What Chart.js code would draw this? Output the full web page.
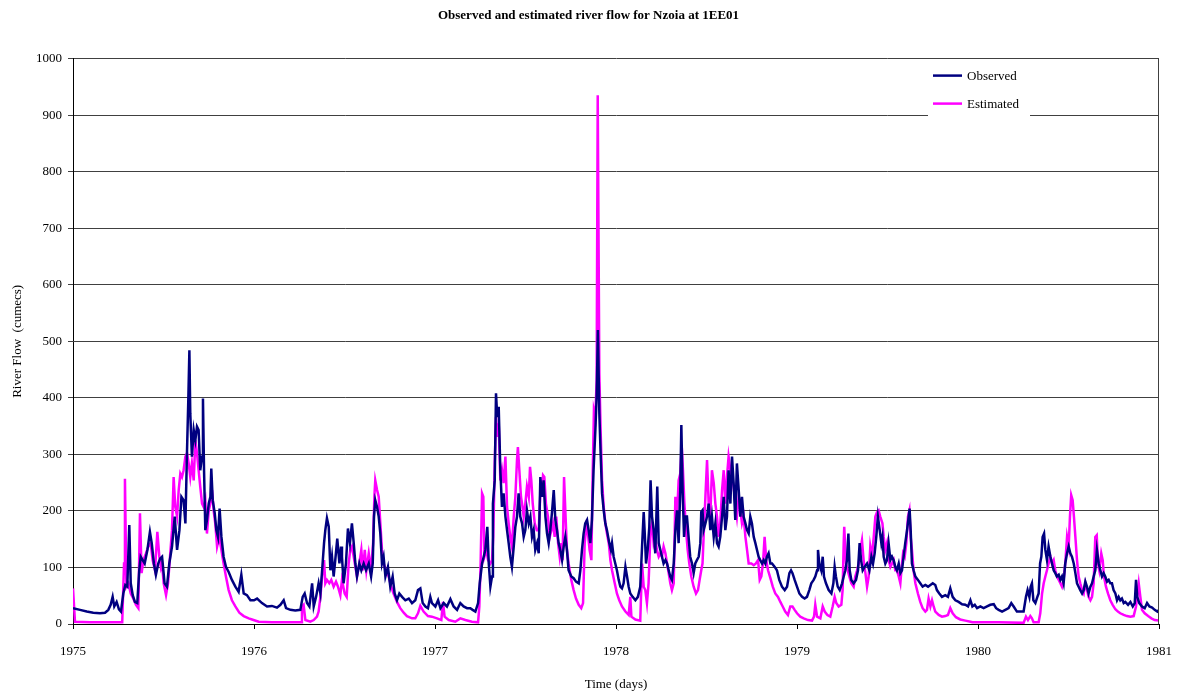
<!DOCTYPE html>
<html>
<head>
<meta charset="utf-8">
<title>Nzoia 1EE01</title>
<script src="https://cdn.jsdelivr.net/npm/chart.js@4.4.0/dist/chart.umd.min.js"></script>
<style>
  html, body { margin: 0; padding: 0; background: #fff; }
  #wrap { width: 1177px; height: 695px; }
</style>
</head>
<body>
<div id="wrap"><canvas id="myChart"></canvas></div>
<script>
// time in decimal years, flow in cumecs
var obsYear = [
  1975.000, 1975.039, 1975.076, 1975.112, 1975.149, 1975.177, 1975.195, 1975.208, 1975.219, 1975.228, 1975.241, 1975.254, 1975.265, 1975.278, 1975.289, 1975.300, 1975.311, 1975.319, 1975.330, 1975.342, 1975.355, 1975.366, 1975.374, 1975.385, 1975.396, 1975.411, 1975.425, 1975.435, 1975.447, 1975.458, 1975.471, 1975.482,
  1975.492, 1975.506, 1975.519, 1975.532, 1975.547, 1975.562, 1975.575, 1975.588, 1975.599, 1975.611, 1975.621, 1975.630, 1975.637, 1975.643, 1975.648, 1975.657, 1975.667, 1975.676, 1975.685, 1975.694, 1975.703, 1975.713, 1975.718, 1975.724, 1975.731, 1975.740, 1975.750, 1975.759, 1975.764, 1975.772, 1975.783, 1975.792, 1975.801, 1975.810, 1975.820, 1975.832, 1975.845, 1975.860, 1975.878, 1975.897, 1975.915, 1975.930, 1975.943, 1975.961, 1975.980,
  1976.000, 1976.017, 1976.044, 1976.072, 1976.099, 1976.127, 1976.146, 1976.164, 1976.177, 1976.201, 1976.228, 1976.256, 1976.269, 1976.280, 1976.293, 1976.306, 1976.321, 1976.330, 1976.343, 1976.357, 1976.367, 1976.379, 1976.387, 1976.394, 1976.403, 1976.413, 1976.422, 1976.431, 1976.440, 1976.449, 1976.460, 1976.472, 1976.481,
  1976.486, 1976.495, 1976.508, 1976.519, 1976.530, 1976.541, 1976.551, 1976.560, 1976.569, 1976.582, 1976.593, 1976.606, 1976.619, 1976.634, 1976.647, 1976.656, 1976.663, 1976.670, 1976.680, 1976.689, 1976.698, 1976.707, 1976.716, 1976.726, 1976.740, 1976.753, 1976.766, 1976.777, 1976.790, 1976.803, 1976.818, 1976.836, 1976.855, 1976.873, 1976.891, 1976.906, 1976.919, 1976.932, 1976.947, 1976.961, 1976.974,
  1976.983, 1977.002, 1977.017, 1977.030, 1977.048, 1977.066, 1977.085, 1977.103, 1977.122, 1977.140, 1977.158, 1977.177, 1977.195, 1977.208, 1977.223, 1977.238, 1977.247, 1977.260, 1977.269, 1977.278, 1977.289, 1977.297, 1977.306, 1977.315, 1977.320, 1977.330, 1977.337, 1977.344, 1977.352, 1977.361, 1977.370, 1977.379, 1977.389, 1977.398, 1977.407, 1977.416, 1977.425, 1977.435, 1977.444, 1977.453, 1977.462, 1977.471,
  1977.481, 1977.490, 1977.499, 1977.508, 1977.518, 1977.527, 1977.536, 1977.545, 1977.554, 1977.564, 1977.573, 1977.582, 1977.591, 1977.600, 1977.610, 1977.619, 1977.628, 1977.637, 1977.646, 1977.656, 1977.665, 1977.674, 1977.683, 1977.692, 1977.702, 1977.711, 1977.720, 1977.729, 1977.738, 1977.753, 1977.766, 1977.779, 1977.794, 1977.803, 1977.812, 1977.821, 1977.830, 1977.840, 1977.849, 1977.858, 1977.867, 1977.876, 1977.886, 1977.893, 1977.900, 1977.908, 1977.915, 1977.923, 1977.932, 1977.941, 1977.950, 1977.963, 1977.972,
  1977.978, 1977.987, 1977.996, 1978.005, 1978.015, 1978.024, 1978.033, 1978.042, 1978.052, 1978.061, 1978.070, 1978.079, 1978.092, 1978.107, 1978.121, 1978.134, 1978.144, 1978.153, 1978.158, 1978.166, 1978.175, 1978.184, 1978.191, 1978.199, 1978.208, 1978.217, 1978.223, 1978.228, 1978.236, 1978.245, 1978.254, 1978.263, 1978.273, 1978.282, 1978.291, 1978.300, 1978.309, 1978.319, 1978.328, 1978.337, 1978.346, 1978.355, 1978.361, 1978.368, 1978.376, 1978.383, 1978.392, 1978.401, 1978.410, 1978.420, 1978.429, 1978.438, 1978.447, 1978.457, 1978.466, 1978.471,
  1978.478, 1978.484, 1978.494, 1978.503, 1978.512, 1978.521, 1978.530, 1978.540, 1978.549, 1978.558, 1978.567, 1978.576, 1978.586, 1978.595, 1978.604, 1978.613, 1978.622, 1978.632, 1978.641, 1978.650, 1978.659, 1978.668, 1978.678, 1978.687, 1978.696, 1978.705, 1978.715, 1978.724, 1978.733, 1978.742, 1978.751, 1978.761, 1978.770, 1978.779, 1978.788, 1978.797, 1978.807, 1978.816, 1978.825, 1978.834, 1978.843, 1978.853, 1978.862, 1978.877, 1978.889, 1978.902, 1978.917, 1978.932, 1978.945, 1978.958, 1978.967,
  1978.975, 1978.987, 1979.000, 1979.013, 1979.028, 1979.042, 1979.055, 1979.068, 1979.079, 1979.092, 1979.101, 1979.111, 1979.116, 1979.123, 1979.134, 1979.142, 1979.149, 1979.160, 1979.175, 1979.190, 1979.201, 1979.208, 1979.215, 1979.225, 1979.236, 1979.249, 1979.258, 1979.267, 1979.276, 1979.284, 1979.291, 1979.300, 1979.313, 1979.326, 1979.337, 1979.346, 1979.354, 1979.363, 1979.374, 1979.387, 1979.400, 1979.411, 1979.420, 1979.429, 1979.438, 1979.447, 1979.457, 1979.466,
  1979.472, 1979.479, 1979.488, 1979.497, 1979.506, 1979.516, 1979.525, 1979.534, 1979.543, 1979.552, 1979.562, 1979.571, 1979.580, 1979.589, 1979.598, 1979.608, 1979.617, 1979.622, 1979.628, 1979.635, 1979.644, 1979.654, 1979.668, 1979.681, 1979.694, 1979.709, 1979.724, 1979.737, 1979.750, 1979.764, 1979.773, 1979.786, 1979.801, 1979.819, 1979.834, 1979.847, 1979.860, 1979.875, 1979.893, 1979.912, 1979.930, 1979.945, 1979.958,
  1979.969, 1979.982, 1979.995, 1980.013, 1980.031, 1980.050, 1980.068, 1980.087, 1980.100, 1980.114, 1980.133, 1980.151, 1980.169, 1980.184, 1980.197, 1980.215, 1980.234, 1980.252, 1980.265, 1980.274, 1980.284, 1980.291, 1980.298, 1980.306, 1980.317, 1980.328, 1980.335, 1980.343, 1980.350, 1980.357, 1980.365, 1980.372, 1980.381, 1980.390, 1980.400, 1980.409, 1980.418, 1980.427, 1980.436, 1980.446, 1980.455,
  1980.464, 1980.473, 1980.482, 1980.492, 1980.501, 1980.510, 1980.519, 1980.529, 1980.538, 1980.547, 1980.556, 1980.565, 1980.575, 1980.584, 1980.593, 1980.602, 1980.611, 1980.621, 1980.630, 1980.639, 1980.648, 1980.657, 1980.667, 1980.676, 1980.685, 1980.694, 1980.703, 1980.713, 1980.722, 1980.731, 1980.740, 1980.749, 1980.759, 1980.768, 1980.777, 1980.786, 1980.795, 1980.805, 1980.814, 1980.829, 1980.842, 1980.855, 1980.866, 1980.873, 1980.880, 1980.891, 1980.906, 1980.921, 1980.934, 1980.947, 1980.962, 1980.976, 1980.991, 1981.000
];
var obsFlow = [
  28, 25, 22, 20, 19, 20, 25, 34, 48, 31, 39, 26, 22, 54, 69, 66, 175, 72, 51, 39, 37, 95, 119, 113, 107, 131, 163, 143, 107, 87, 107, 116,
  119, 72, 66, 107, 137, 190, 131, 166, 225, 219, 178, 307, 396, 484, 372, 296, 343, 325, 349, 343, 272, 296, 399, 272, 166, 184, 213, 225, 275, 219, 196, 166, 154, 204, 154, 119, 101, 92, 78, 66, 57, 87, 54, 51, 42,
  42, 45, 37, 31, 32, 29, 34, 42, 28, 25, 24, 25, 48, 54, 37, 31, 72, 31, 48, 72, 54, 107, 143, 166, 187, 172, 95, 119, 84, 113, 151, 107, 137,
  119, 72, 107, 169, 143, 178, 143, 107, 84, 107, 95, 107, 95, 107, 84, 107, 190, 219, 207, 190, 160, 107, 119, 84, 101, 66, 84, 54, 42, 54, 48, 42, 45, 37, 42, 60, 63, 37, 31, 28, 48,
  37, 31, 42, 28, 37, 31, 44, 31, 25, 37, 31, 28, 28, 25, 22, 37, 72, 107, 119, 131, 172, 107, 66, 84, 213, 254, 408, 366, 384, 272, 207, 231, 190, 166, 143, 119, 101, 137, 172, 190, 231, 190,
  178, 154, 166, 201, 178, 190, 154, 166, 131, 143, 125, 260, 225, 254, 190, 160, 143, 166, 196, 237, 184, 166, 143, 131, 113, 137, 154, 131, 95, 84, 81, 75, 72, 95, 131, 160, 178, 184, 166, 143, 184, 272, 343, 402, 520, 372, 302, 231, 201, 178, 166, 143, 131,
  143, 119, 107, 95, 78, 66, 63, 72, 101, 84, 66, 54, 48, 42, 48, 66, 137, 198, 166, 107, 131, 172, 254, 190, 166, 125, 190, 243, 143, 131, 119, 107, 113, 107, 95, 84, 78, 107, 166, 201, 143, 237, 352, 237, 154, 190, 190, 154, 119, 107, 90, 107, 113, 119, 143, 198,
  201, 166, 178, 190, 213, 166, 190, 154, 178, 143, 137, 154, 190, 225, 166, 190, 272, 213, 296, 249, 184, 284, 237, 190, 225, 190, 178, 166, 160, 190, 178, 154, 143, 131, 119, 113, 107, 113, 107, 119, 125, 107, 107, 101, 95, 78, 66, 60, 66, 90, 95,
  90, 78, 66, 54, 48, 45, 48, 60, 72, 78, 84, 95, 131, 107, 95, 119, 84, 72, 60, 54, 72, 101, 84, 66, 60, 72, 84, 95, 113, 160, 95, 78, 72, 78, 95, 143, 113, 95, 101, 107, 95, 119, 107, 125, 154, 190, 166, 143,
  154, 119, 107, 113, 143, 113, 119, 113, 101, 95, 107, 90, 95, 119, 143, 166, 190, 204, 166, 107, 95, 84, 78, 72, 66, 69, 66, 69, 72, 69, 60, 54, 48, 51, 48, 63, 48, 42, 39, 35, 34, 31, 42,
  31, 34, 28, 31, 28, 31, 34, 35, 28, 25, 22, 25, 28, 37, 31, 22, 22, 22, 48, 60, 48, 66, 72, 42, 37, 48, 54, 107, 119, 154, 160, 131, 113, 137, 119, 107, 95, 90, 84, 87, 78,
  84, 72, 107, 125, 137, 125, 119, 107, 90, 72, 66, 60, 54, 60, 75, 66, 54, 66, 72, 84, 95, 131, 107, 95, 84, 90, 84, 75, 78, 72, 72, 60, 54, 42, 48, 42, 45, 37, 39, 34, 39, 31, 37, 78, 48, 37, 31, 28, 37, 31, 29, 25, 22, 25
];

var estYear = [
  1975.000, 1975.011, 1975.094, 1975.272, 1975.282, 1975.287, 1975.295, 1975.306, 1975.319, 1975.333, 1975.348, 1975.361, 1975.370, 1975.379, 1975.389, 1975.403, 1975.416, 1975.429, 1975.440, 1975.453, 1975.466, 1975.477, 1975.486,
  1975.492, 1975.501, 1975.514, 1975.525, 1975.536, 1975.547, 1975.556, 1975.565, 1975.575, 1975.584, 1975.593, 1975.602, 1975.611, 1975.621, 1975.630, 1975.639, 1975.648, 1975.657, 1975.667, 1975.676, 1975.685, 1975.694, 1975.703, 1975.713, 1975.722, 1975.731, 1975.740, 1975.750, 1975.759, 1975.768, 1975.777, 1975.786, 1975.796, 1975.808, 1975.820, 1975.832, 1975.845, 1975.860, 1975.878, 1975.897, 1975.919, 1975.943, 1975.971,
  1975.989, 1976.026, 1976.099, 1976.262, 1976.265, 1976.274, 1976.284, 1976.311, 1976.330, 1976.348, 1976.357, 1976.367, 1976.376, 1976.387, 1976.394, 1976.403, 1976.416, 1976.427, 1976.440, 1976.453, 1976.464, 1976.477,
  1976.486, 1976.501, 1976.512, 1976.523, 1976.532, 1976.541, 1976.551, 1976.560, 1976.569, 1976.582, 1976.593, 1976.602, 1976.612, 1976.621, 1976.634, 1976.647, 1976.658, 1976.665, 1976.670, 1976.680, 1976.689, 1976.698, 1976.707, 1976.716, 1976.729, 1976.744, 1976.758, 1976.771, 1976.790, 1976.808, 1976.827, 1976.845, 1976.873, 1976.891, 1976.906, 1976.919, 1976.937, 1976.961,
  1976.983, 1977.011, 1977.035, 1977.044, 1977.053, 1977.076, 1977.112, 1977.140, 1977.168, 1977.204, 1977.238, 1977.245, 1977.252, 1977.260, 1977.267, 1977.273, 1977.284, 1977.293, 1977.306, 1977.315, 1977.322, 1977.330, 1977.337, 1977.344, 1977.352, 1977.361, 1977.370, 1977.379, 1977.389, 1977.398, 1977.407, 1977.416, 1977.425, 1977.435, 1977.444, 1977.453, 1977.458, 1977.466, 1977.475,
  1977.481, 1977.490, 1977.499, 1977.508, 1977.518, 1977.525, 1977.532, 1977.540, 1977.551, 1977.562, 1977.573, 1977.582, 1977.591, 1977.597, 1977.604, 1977.613, 1977.624, 1977.634, 1977.643, 1977.652, 1977.661, 1977.670, 1977.680, 1977.689, 1977.698, 1977.705, 1977.713, 1977.720, 1977.729, 1977.738, 1977.753, 1977.766, 1977.779, 1977.794, 1977.808, 1977.818, 1977.827, 1977.836, 1977.845, 1977.854, 1977.864, 1977.871, 1977.878, 1977.886, 1977.893, 1977.899, 1977.908, 1977.915, 1977.923, 1977.932, 1977.941, 1977.950, 1977.960, 1977.969,
  1977.978, 1977.993, 1978.005, 1978.018, 1978.033, 1978.052, 1978.070, 1978.079, 1978.085, 1978.107, 1978.134, 1978.144, 1978.153, 1978.162, 1978.171, 1978.180, 1978.191, 1978.199, 1978.208, 1978.217, 1978.226, 1978.236, 1978.245, 1978.254, 1978.263, 1978.273, 1978.282, 1978.291, 1978.300, 1978.309, 1978.319, 1978.328, 1978.337, 1978.346, 1978.355, 1978.363, 1978.370, 1978.378, 1978.387, 1978.396, 1978.405, 1978.416, 1978.429, 1978.442, 1978.453, 1978.462, 1978.471,
  1978.478, 1978.484, 1978.494, 1978.503, 1978.512, 1978.521, 1978.530, 1978.540, 1978.549, 1978.558, 1978.567, 1978.576, 1978.586, 1978.595, 1978.604, 1978.613, 1978.622, 1978.632, 1978.641, 1978.650, 1978.659, 1978.668, 1978.678, 1978.687, 1978.696, 1978.705, 1978.715, 1978.724, 1978.733, 1978.748, 1978.761, 1978.773, 1978.785, 1978.794, 1978.803, 1978.812, 1978.821, 1978.830, 1978.840, 1978.853, 1978.866, 1978.880, 1978.895, 1978.908, 1978.921, 1978.935, 1978.950, 1978.963,
  1978.975, 1978.987, 1979.000, 1979.018, 1979.037, 1979.061, 1979.083, 1979.094, 1979.101, 1979.111, 1979.129, 1979.142, 1979.153, 1979.168, 1979.184, 1979.197, 1979.208, 1979.217, 1979.230, 1979.245, 1979.252, 1979.258, 1979.261, 1979.271, 1979.280, 1979.289, 1979.300, 1979.313, 1979.322, 1979.332, 1979.341, 1979.350, 1979.359, 1979.368, 1979.378, 1979.387, 1979.396, 1979.405, 1979.414, 1979.424, 1979.433, 1979.442, 1979.451, 1979.460,
  1979.472, 1979.479, 1979.488, 1979.497, 1979.506, 1979.516, 1979.525, 1979.534, 1979.543, 1979.552, 1979.562, 1979.571, 1979.580, 1979.586, 1979.595, 1979.604, 1979.613, 1979.621, 1979.628, 1979.635, 1979.644, 1979.654, 1979.668, 1979.681, 1979.694, 1979.709, 1979.718, 1979.727, 1979.737, 1979.746, 1979.755, 1979.764, 1979.783, 1979.801, 1979.819, 1979.834, 1979.847, 1979.860, 1979.878, 1979.902, 1979.930, 1979.958,
  1979.969, 1980.041, 1980.114, 1980.252, 1980.265, 1980.276, 1980.289, 1980.298, 1980.307, 1980.335, 1980.344, 1980.354, 1980.363, 1980.372, 1980.381, 1980.390, 1980.400, 1980.409, 1980.418, 1980.427, 1980.436, 1980.446, 1980.455,
  1980.464, 1980.473, 1980.482, 1980.492, 1980.501, 1980.508, 1980.515, 1980.523, 1980.530, 1980.538, 1980.547, 1980.556, 1980.565, 1980.575, 1980.584, 1980.593, 1980.602, 1980.611, 1980.621, 1980.630, 1980.639, 1980.648, 1980.656, 1980.663, 1980.670, 1980.681, 1980.689, 1980.696, 1980.707, 1980.718, 1980.731, 1980.744, 1980.759, 1980.773, 1980.786, 1980.805, 1980.823, 1980.842, 1980.860, 1980.873, 1980.888, 1980.897, 1980.906, 1980.921, 1980.940, 1980.958, 1980.976, 1981.000
];
var estFlow = [
  63, 4, 3, 3, 107, 257, 66, 72, 54, 45, 34, 28, 196, 90, 113, 125, 137, 143, 113, 95, 163, 119, 100,
  107, 72, 51, 72, 119, 166, 260, 207, 190, 237, 266, 260, 272, 296, 302, 284, 260, 284, 254, 325, 302, 272, 243, 213, 207, 219, 160, 201, 213, 237, 201, 178, 137, 154, 131, 107, 84, 60, 42, 31, 20, 14, 10,
  8, 4, 3, 3, 31, 34, 7, 4, 7, 13, 22, 48, 84, 113, 72, 78, 72, 78, 66, 75, 66, 51,
  78, 54, 48, 107, 131, 137, 119, 101, 84, 107, 131, 95, 131, 95, 125, 95, 143, 225, 254, 237, 225, 178, 131, 107, 95, 84, 66, 54, 39, 28, 20, 14, 10, 10, 19, 32, 22, 14,
  13, 10, 7, 39, 13, 7, 4, 10, 7, 4, 3, 31, 107, 231, 225, 119, 131, 113, 107, 113, 154, 284, 366, 331, 355, 254, 272, 249, 296, 207, 178, 154, 137, 190, 225, 290, 313, 272, 225,
  213, 190, 213, 243, 225, 278, 254, 213, 178, 166, 166, 231, 237, 263, 260, 213, 190, 154, 166, 178, 154, 190, 143, 119, 143, 113, 260, 201, 131, 107, 78, 60, 45, 34, 28, 37, 143, 172, 160, 131, 113, 260, 378, 366, 431, 935, 443, 343, 254, 207, 178, 160, 143, 113,
  95, 72, 54, 42, 31, 22, 16, 48, 13, 8, 6, 107, 66, 60, 37, 72, 166, 178, 143, 154, 131, 119, 125, 119, 137, 125, 107, 90, 72, 60, 72, 225, 190, 254, 266, 316, 272, 213, 166, 131, 107, 84, 66, 54, 60, 78, 95,
  107, 154, 225, 290, 213, 190, 272, 249, 213, 190, 154, 178, 237, 272, 213, 260, 296, 272, 260, 243, 213, 190, 225, 201, 178, 190, 154, 131, 107, 107, 104, 107, 113, 78, 84, 107, 154, 113, 95, 81, 66, 54, 48, 39, 31, 22, 16, 31,
  31, 25, 19, 13, 10, 7, 6, 13, 34, 13, 10, 31, 22, 16, 13, 31, 48, 37, 31, 34, 60, 143, 172, 107, 95, 84, 72, 66, 84, 95, 107, 131, 148, 113, 90, 66, 84, 137, 119, 154, 190, 198, 201, 190,
  178, 154, 131, 143, 113, 101, 107, 113, 95, 95, 84, 72, 107, 125, 119, 143, 190, 201, 154, 131, 95, 72, 54, 39, 28, 22, 25, 45, 31, 42, 31, 22, 16, 13, 14, 16, 28, 19, 12, 8, 6, 4,
  3, 3, 3, 2, 13, 7, 14, 10, 3, 3, 19, 54, 72, 84, 95, 107, 119, 107, 113, 95, 84, 78, 72,
  66, 78, 107, 154, 137, 190, 228, 219, 190, 154, 113, 84, 72, 60, 54, 72, 60, 48, 42, 48, 72, 154, 157, 107, 95, 125, 113, 84, 66, 54, 42, 34, 26, 22, 19, 16, 14, 13, 14, 31, 72, 48, 25, 19, 14, 10, 7, 6
];

var seriesNames = ["Observed", "Estimated"];
var seriesColors = ["#000080", "#FF00FF"];
var yearTicks = ["1975", "1976", "1977", "1978", "1979", "1980", "1981"];

function toPoints(xs, ys) {
  var pts = [];
  for (var i = 0; i < xs.length; i++) pts.push({ x: xs[i], y: ys[i] });
  return pts;
}

var serif = "'Liberation Serif', 'DejaVu Serif', serif";

// white legend box inside the plot, like the original
var boxLegend = {
  id: 'boxLegend',
  afterDraw: function (chart) {
    var ctx = chart.ctx;
    var area = chart.chartArea;
    var bx = 928, by = area.top + 1, bw = 102, bh = 57;
    ctx.save();
    ctx.fillStyle = '#fff';
    ctx.fillRect(bx, by, bw, bh);
    ctx.font = '13px ' + serif;
    ctx.textBaseline = 'middle';
    ctx.fillStyle = '#000';
    chart.data.datasets.forEach(function (ds, i) {
      var ly = by + 16 + i * 28;
      ctx.strokeStyle = ds.borderColor;
      ctx.lineWidth = 2.5;
      ctx.beginPath();
      ctx.moveTo(bx + 5, ly);
      ctx.lineTo(bx + 34, ly);
      ctx.stroke();
      ctx.fillText(ds.label, bx + 39, ly + 1);
    });
    // right border of plot area
    ctx.strokeStyle = '#404040';
    ctx.lineWidth = 1;
    ctx.beginPath();
    ctx.moveTo(area.right - 0.5, area.top);
    ctx.lineTo(area.right - 0.5, area.bottom);
    ctx.stroke();
    ctx.restore();
  }
};

new Chart("myChart", {
  type: "line",
  data: {
    datasets: [{
      label: seriesNames[0],
      data: toPoints(obsYear, obsFlow),
      borderColor: seriesColors[0],
      backgroundColor: seriesColors[0],
      borderWidth: 2.5,
      pointRadius: 0,
      tension: 0
    }, {
      label: seriesNames[1],
      data: toPoints(estYear, estFlow),
      borderColor: seriesColors[1],
      backgroundColor: seriesColors[1],
      borderWidth: 2.5,
      pointRadius: 0,
      tension: 0
    }]
  },
  options: {
    responsive: true,
    maintainAspectRatio: false,
    animation: false,
    devicePixelRatio: 1,
    // equal side padding keeps the title centred on the page like the original
    layout: { padding: { left: 9, right: 9, top: 0, bottom: 0 } },
    plugins: {
      legend: { display: false },
      tooltip: { enabled: false },
      title: {
        display: true,
        text: "Observed and estimated river flow for Nzoia at 1EE01",
        color: '#000',
        font: { family: serif, size: 13, weight: 'bold' },
        padding: { top: 8, bottom: 35 }
      }
    },
    scales: {
      x: {
        type: 'linear',
        min: 1975,
        max: 1981,
        afterFit: function (s) {
          s.height = 71;
          s.paddingLeft = 0;
          s.paddingRight = 18;
        },
        ticks: {
          stepSize: 1,
          color: '#000',
          font: { family: serif, size: 13 },
          padding: 15,
          maxRotation: 0,
          callback: function (v) { return yearTicks[Math.round(v - 1975)]; }
        },
        grid: { drawOnChartArea: false, drawTicks: true, tickLength: 5, color: '#000' },
        border: { display: true, color: '#000', width: 1 },
        title: {
          display: true,
          text: 'Time (days)',
          color: '#000',
          font: { family: serif, size: 13 },
          padding: { top: 0, bottom: 3 }
        }
      },
      y: {
        min: 0,
        max: 1000,
        afterFit: function (s) { s.width = 64; },
        ticks: {
          stepSize: 100,
          color: '#000',
          font: { family: serif, size: 13 },
          padding: 6,
          callback: function (v) { return String(v); }
        },
        grid: { color: '#404040', tickLength: 5, drawTicks: true },
        border: { display: true, color: '#000', width: 1 },
        title: {
          display: true,
          text: 'River Flow  (cumecs)',
          color: '#000',
          font: { family: serif, size: 13 },
          padding: { top: 1, bottom: 0 }
        }
      }
    }
  },
  plugins: [boxLegend]
});
</script>
</body>
</html>
